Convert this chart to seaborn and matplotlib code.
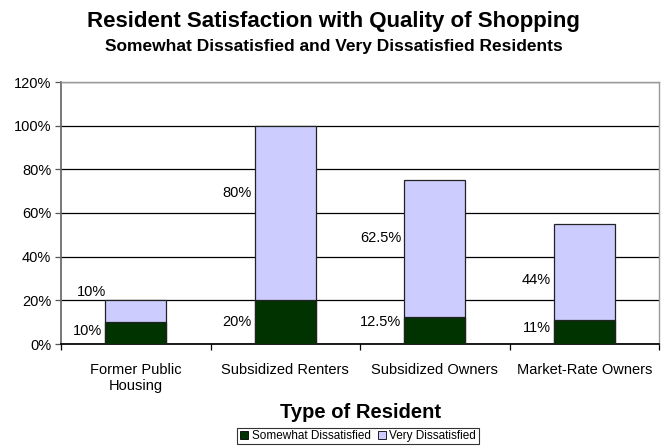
import matplotlib
matplotlib.use("Agg")
import matplotlib.pyplot as plt
import matplotlib.ticker as mticker
from matplotlib.patches import Patch
import seaborn as sns
import pandas as pd

# Chart data
categories = ["Former Public\nHousing", "Subsidized Renters", "Subsidized Owners", "Market-Rate Owners"]
somewhat_dissatisfied = [10, 20, 12.5, 11]
very_dissatisfied = [10, 80, 62.5, 44]
y_ticks = [0, 20, 40, 60, 80, 100, 120]

# Label nudges in points (dx, dy) relative to the left edge / middle of each segment
lower_nudge = [(-2, 1.4), (-2, 0), (-2, 5.8), (-2, 2.9)]
upper_nudge = [(1, 13.7), (-2, 14.4), (-2, 7.2), (-2, -5.8)]

DARK = "#003300"
LIGHT = "#CCCCFF"

sns.set_theme(style="white")
plt.rcParams["font.family"] = ["Liberation Sans", "DejaVu Sans"]
plt.rcParams["text.color"] = "black"
plt.rcParams["axes.labelcolor"] = "black"
plt.rcParams["xtick.color"] = "black"
plt.rcParams["ytick.color"] = "black"

df = pd.DataFrame({
    "category": categories,
    "somewhat": somewhat_dissatisfied,
    "very": very_dissatisfied,
})
df["total"] = df["somewhat"] + df["very"]

fig = plt.figure(figsize=(6.67, 4.46), dpi=100)
ax = fig.add_axes([61 / 667, 1 - 344 / 446, 598 / 667, 262 / 446])

bar_w = 0.41
# stacked bars: full height in light colour, lower segment overlaid in dark
sns.barplot(data=df, x="category", y="total", color=LIGHT, width=bar_w,
            edgecolor="#222222", linewidth=0.9, saturation=1, ax=ax, zorder=3)
sns.barplot(data=df, x="category", y="somewhat", color=DARK, width=bar_w,
            edgecolor="#222222", linewidth=0.9, saturation=1, ax=ax, zorder=4)

ax.set_xlim(-0.5, len(categories) - 0.5)
ax.set_ylim(0, 120)
ax.set_yticks(y_ticks)
ax.yaxis.set_major_formatter(mticker.FuncFormatter(lambda v, _: f"{v:.0f}%"))
ax.grid(axis="y", color="black", linewidth=0.9, zorder=0)
ax.set_axisbelow(True)

# ticks between categories on the x axis
ax.set_xticks(range(len(categories)))
ax.set_xticklabels(categories, fontsize=10.5, linespacing=1.15)
ax.set_xticks([i - 0.5 for i in range(len(categories) + 1)], minor=True)
ax.tick_params(axis="x", which="major", length=0, pad=14)
ax.tick_params(axis="x", which="minor", length=4, width=0.9, color="black", direction="out", bottom=True)
ax.tick_params(axis="y", length=4, width=0.9, color="#555555", direction="out", left=True,
               labelsize=10.5, pad=3)

for side in ["top", "right"]:
    ax.spines[side].set_color("#999999")
    ax.spines[side].set_linewidth(1.0)
ax.spines["left"].set_color("#666666")
ax.spines["bottom"].set_color("black")
for s in ax.spines.values():
    s.set_visible(True)

ax.set_ylabel("")
ax.set_xlabel("Type of Resident", fontsize=14.5, fontweight="bold", labelpad=7)

# value labels to the left of each segment
for i, (lo, hi) in enumerate(zip(somewhat_dissatisfied, very_dissatisfied)):
    left = i - bar_w / 2
    ax.annotate(f"{lo:g}%", xy=(left, lo / 2), xytext=lower_nudge[i], textcoords="offset points",
                ha="right", va="center", fontsize=10.5)
    ax.annotate(f"{hi:g}%", xy=(left, lo + hi / 2), xytext=upper_nudge[i], textcoords="offset points",
                ha="right", va="center", fontsize=10.5)

fig.text(0.5, 1 - 21 / 446, "Resident Satisfaction with Quality of Shopping",
         ha="center", va="center", fontsize=16, fontweight="bold")
fig.text(0.5, 1 - 46 / 446, "Somewhat Dissatisfied and Very Dissatisfied Residents",
         ha="center", va="center", fontsize=12.5, fontweight="bold")

handles = [Patch(facecolor=DARK, edgecolor="black", linewidth=0.6, label="Somewhat Dissatisfied"),
           Patch(facecolor=LIGHT, edgecolor="black", linewidth=0.6, label="Very Dissatisfied")]
leg = fig.legend(handles=handles, loc="center", bbox_to_anchor=(358 / 667, 1 - 436 / 446),
                 ncol=2, fontsize=8.5, frameon=True, fancybox=False, handlelength=0.7,
                 handleheight=0.7, handletextpad=0.3, columnspacing=0.6, borderpad=0.2,
                 borderaxespad=0)
leg.get_frame().set_edgecolor("black")
leg.get_frame().set_linewidth(0.8)

fig.savefig("out.png", dpi=100, facecolor="white")
